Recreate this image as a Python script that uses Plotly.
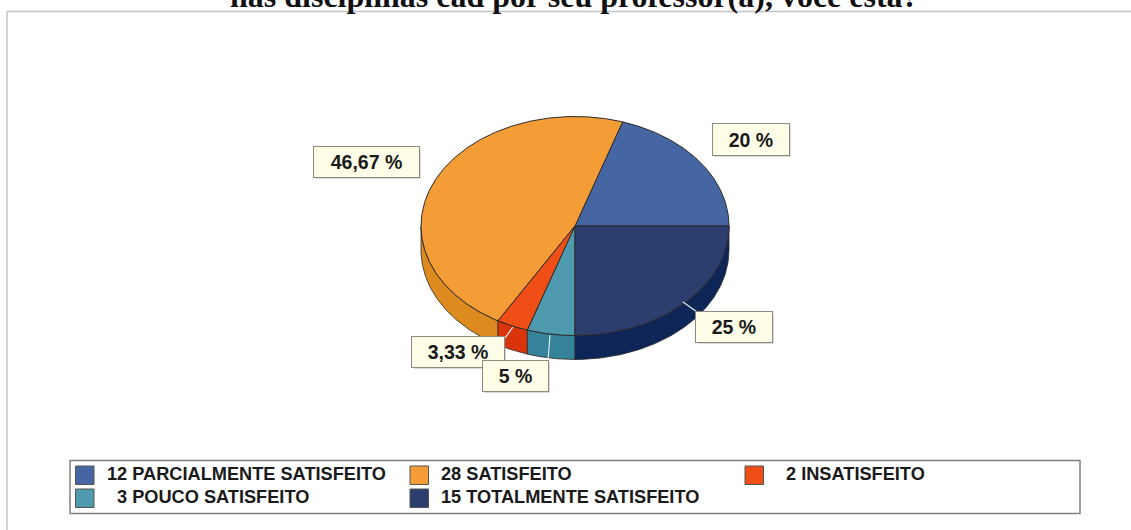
import numpy as np
import plotly.graph_objects as go

# ---- data ----
title_text = "nas disciplinas cad por seu professor(a), você está?"
categories = ["PARCIALMENTE SATISFEITO", "SATISFEITO", "INSATISFEITO",
              "POUCO SATISFEITO", "TOTALMENTE SATISFEITO"]
counts = [12, 28, 2, 3, 15]
percent_labels = ["20 %", "46,67 %", "3,33 %", "5 %", "25 %"]

# ---- style ----
top_colors = ["#4565A3", "#F49D37", "#F04E17", "#4F9AAE", "#2C3E6E"]
side_colors = ["#2F4C86", "#DD8A1F", "#D9340A", "#35829B", "#0E2657"]
edge = "#2b2b2b"
CX, CY, RX, RY, DEPTH = 575, 226, 154, 109.5, 24

fractions = np.array(counts) / sum(counts)
ends = np.cumsum(fractions) * 360
starts = ends - fractions * 360


def arc(a0, a1, dy=0.0):
    t = np.radians(np.linspace(a0, a1, max(int(abs(a1 - a0)) * 2, 2) + 1))
    return CX + RX * np.cos(t), CY - RY * np.sin(t) + dy


fig = go.Figure()


def poly(x, y, fill, width=1.0):
    fig.add_trace(go.Scatter(x=x, y=y, mode="lines", fill="toself", fillcolor=fill,
                             line=dict(color=edge, width=width), hoverinfo="skip",
                             showlegend=False))


# side walls (only the visible, front half of the rim)
for s, e, c in zip(starts, ends, side_colors):
    lo, hi = max(s, 180), min(e, 360)
    if hi <= lo:
        continue
    x1, y1 = arc(lo, hi)
    x2, y2 = arc(hi, lo, DEPTH)
    poly(np.r_[x1, x2, x1[0]], np.r_[y1, y2, y1[0]], c, 0.8)

# top faces
for s, e, c in zip(starts, ends, top_colors):
    x, y = arc(s, e)
    poly(np.r_[CX, x, CX], np.r_[CY, y, CY], c, 1.0)

# leader lines
leaders = [((683, 302), (697, 312)), ((513, 327), (505, 338)), ((550, 335), (548, 361))]
for a, b in leaders:
    fig.add_trace(go.Scatter(x=[a[0], b[0]], y=[a[1], b[1]], mode="lines",
                             line=dict(color="#DDEBEF", width=1.2), hoverinfo="skip",
                             showlegend=False))

shapes = [
    # outer frame
    dict(type="line", x0=7, x1=1131, y0=11.5, y1=11.5, line=dict(color="#C4C4C4", width=1.5)),
    dict(type="line", x0=7, x1=7, y0=11.5, y1=530, line=dict(color="#C4C4C4", width=1.5)),
    # legend box
    dict(type="rect", x0=70, x1=1080, y0=460.5, y1=513.5,
         line=dict(color="#808080", width=1.5), fillcolor="white"),
]

annotations = [dict(text=f"<b>{title_text}</b>", x=228, y=16.5, xref="x", yref="y",
                    xanchor="left", yanchor="bottom", showarrow=False,
                    font=dict(family="Liberation Serif", size=32, color="#111"))]

# label boxes: left, right, top, bottom
boxes = {"20 %": (713, 789, 124, 155), "46,67 %": (314, 419, 147, 177),
         "25 %": (696, 772, 312, 342), "3,33 %": (412, 504, 337, 367),
         "5 %": (483, 548, 361, 391)}
for lab in ["20 %", "46,67 %", "25 %", "3,33 %", "5 %"]:
    l, r, t, b = boxes[lab]
    shapes.append(dict(type="rect", x0=l + 1.5, x1=r + 1.5, y0=t + 1.5, y1=b + 1.5,
                       line=dict(width=0), fillcolor="rgba(120,120,120,0.55)"))
    annotations.append(dict(text=f"<b>{lab}</b>", x=(l + r) / 2, y=(t + b) / 2, xref="x", yref="y",
                            width=r - l - 2, height=b - t - 2, showarrow=False,
                            bgcolor="#FDFDE8", bordercolor="#8A8A80", borderwidth=1,
                            align="center", valign="middle",
                            font=dict(family="Liberation Sans", size=19.5, color="#1a1a1a")))

# legend entries: swatch x, swatch y, text x
legend_pos = [(75.5, 466, 105), (410, 466, 439), (745, 466, 784), (75.5, 489, 115), (410, 489, 439)]
for n, cat, col, (sx, sy, tx) in zip(counts, categories, top_colors, legend_pos):
    shapes.append(dict(type="rect", x0=sx, x1=sx + 18.5, y0=sy, y1=sy + 18.5,
                       line=dict(color="#555", width=1), fillcolor=col))
    annotations.append(dict(text=f"<b>{n} {cat}</b>", x=tx, y=sy + 8, xref="x", yref="y",
                            xanchor="left", yanchor="middle", showarrow=False,
                            font=dict(family="Liberation Sans", size=18.2, color="#1a1a1a")))

fig.update_layout(
    width=1131, height=530, margin=dict(l=0, r=0, t=0, b=0),
    paper_bgcolor="white", plot_bgcolor="white", showlegend=False,
    xaxis=dict(range=[0, 1131], visible=False, fixedrange=True),
    yaxis=dict(range=[530, 0], visible=False, fixedrange=True),
    shapes=shapes, annotations=annotations,
)
fig.write_html("out.html", config={"displayModeBar": False},
               post_script="document.body.style.margin='0';document.documentElement.style.overflow='hidden';")
